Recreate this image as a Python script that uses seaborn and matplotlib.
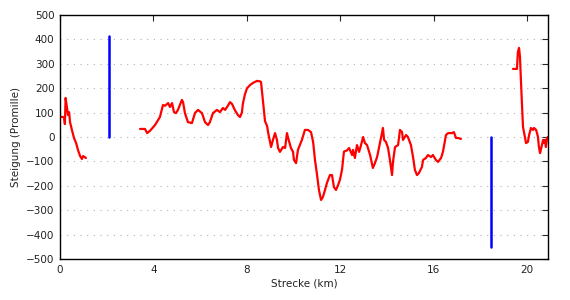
import numpy as np
import pandas as pd
import matplotlib
matplotlib.use("Agg")
import matplotlib.pyplot as plt
import seaborn as sns

# ---- data (km, Promille) ----
seg1_km = [0.00, 0.17, 0.21, 0.24, 0.30, 0.34, 0.39, 0.43, 0.51, 0.60, 0.69, 0.77, 0.86, 0.94, 0.99, 1.11]
seg1_val = [82, 82, 53, 160, 119, 90, 102, 61, 29, -4, -25, -53, -78, -90, -78, -86]

seg2_km = [3.43, 3.64, 3.73, 3.85, 4.07, 4.28, 4.41, 4.50, 4.63, 4.71, 4.80, 4.88, 4.97, 5.05,
           5.22, 5.27, 5.35, 5.48, 5.65, 5.78, 5.91, 6.08, 6.21, 6.34, 6.42, 6.55, 6.72, 6.85,
           6.98, 7.07, 7.19, 7.28, 7.37, 7.49, 7.62, 7.71, 7.79, 7.83, 7.92, 8.01, 8.14, 8.27,
           8.44, 8.57, 8.61, 8.70, 8.78, 8.87, 8.91, 9.04, 9.12, 9.21, 9.29, 9.34, 9.42, 9.55,
           9.64, 9.72, 9.76, 9.89, 9.98, 10.02, 10.11, 10.19, 10.36, 10.49, 10.62, 10.75, 10.84,
           10.92, 11.01, 11.09, 11.18, 11.26, 11.35, 11.43, 11.56, 11.65, 11.73, 11.82, 11.91,
           11.99, 12.08, 12.16, 12.29, 12.38, 12.51, 12.55, 12.63, 12.72, 12.81, 12.93, 12.98,
           13.06, 13.15, 13.28, 13.40, 13.49, 13.58, 13.66, 13.79, 13.83, 13.88, 13.96, 14.05,
           14.13, 14.22, 14.26, 14.35, 14.48, 14.56, 14.65, 14.69, 14.82, 14.90, 15.03, 15.12,
           15.20, 15.29, 15.37, 15.50, 15.55, 15.67, 15.76, 15.89, 15.97, 16.10, 16.19, 16.32,
           16.40, 16.53, 16.62, 16.79, 16.87, 16.96, 17.05, 17.17]
seg2_val = [33, 33, 16, 25, 49, 82, 131, 128, 139, 123, 139, 102, 98, 111,
            152, 143, 98, 61, 57, 98, 111, 98, 61, 49, 61, 98, 111, 102,
            119, 111, 128, 143, 135, 110, 90, 82, 100, 135, 175, 200, 213, 222,
            230, 228, 225, 140, 65, 45, 20, -41, -12, 16, -12, -45, -61, -41,
            -45, 16, 0, -45, -61, -94, -107, -53, -12, 29, 29, 20, -20,
            -94, -156, -217, -258, -246, -217, -189, -156, -156, -205, -217, -197,
            -175, -133, -60, -55, -45, -74, -53, -86, -33, -61, -20, 0,
            -25, -33, -74, -127, -107, -82, -45, 16, 37, -12, -20, -45,
            -94, -156, -102, -41, -33, 29, 20, -12, 8, 0, -33, -82,
            -135, -156, -148, -123, -94, -86, -74, -82, -74, -94, -102, -86,
            -61, 8, 16, 16, 20, -4, -4, -8]

seg3_km = [19.40, 19.57, 19.61, 19.66, 19.70, 19.74, 19.79, 19.83, 19.91, 19.96, 20.04, 20.09,
           20.17, 20.26, 20.30, 20.39, 20.43, 20.47, 20.51, 20.56, 20.64, 20.69, 20.73, 20.77,
           20.81, 20.86, 20.90]
seg3_val = [279, 279, 348, 365, 328, 234, 123, 41, 0, -25, -20, 8,
            37, 29, 37, 29, 16, 0, -41, -66, -33, -12, -25, -12,
            -41, -4, 0]

bar_km = [2.08, 18.45]
bar_val = [415, -450]

x_ticks = [0, 4, 8, 12, 16, 20]
y_ticks = list(range(-500, 501, 100))
x_label = "Strecke (km)"
y_label = "Steigung (Promille)"

# ---- build table ----
df = pd.concat([
    pd.DataFrame({"km": seg1_km, "val": seg1_val, "seg": 1}),
    pd.DataFrame({"km": seg2_km, "val": seg2_val, "seg": 2}),
    pd.DataFrame({"km": seg3_km, "val": seg3_val, "seg": 3}),
], ignore_index=True)

rows = []
for i, (k, v) in enumerate(zip(bar_km, bar_val)):
    rows.append({"km": k, "val": 0, "bar": i})
    rows.append({"km": k, "val": v, "bar": i})
bars = pd.DataFrame(rows)

sns.set_style("white")
plt.rcParams["font.family"] = ["DejaVu Sans"]
plt.rcParams["font.size"] = 7.5

fig = plt.figure(figsize=(5.7, 3.0), dpi=100)
ax = fig.add_axes([60 / 570, 1 - 259 / 300, (548 - 60) / 570, (259 - 15) / 300])

sns.lineplot(data=bars, x="km", y="val", units="bar", estimator=None, sort=False,
             color="#0000ff", linewidth=1.8, ax=ax, legend=False)
sns.lineplot(data=df, x="km", y="val", units="seg", estimator=None,
             color="#ff0000", linewidth=1.6, ax=ax, legend=False)

ax.set_xlim(0, 20.9)
ax.set_ylim(-500, 500)
ax.set_xticks(x_ticks)
ax.set_yticks(y_ticks)
ax.set_xlabel(x_label, fontsize=7.5, color="#222222", labelpad=3)
ax.set_ylabel(y_label, fontsize=7.5, color="#222222", labelpad=4)

ax.yaxis.grid(True, color="#b0b0b0", linewidth=0.8, linestyle=(0, (1, 5)))
ax.xaxis.grid(False)
ax.set_axisbelow(True)

for s in ax.spines.values():
    s.set_visible(True)
    s.set_color("black")
    s.set_linewidth(1.0)

ax.tick_params(axis="both", which="both", direction="in", length=4, width=0.8,
               top=True, right=True, labelsize=7.5, labelcolor="#222222", pad=4)

fig.savefig("out.png", dpi=100, facecolor="white")
